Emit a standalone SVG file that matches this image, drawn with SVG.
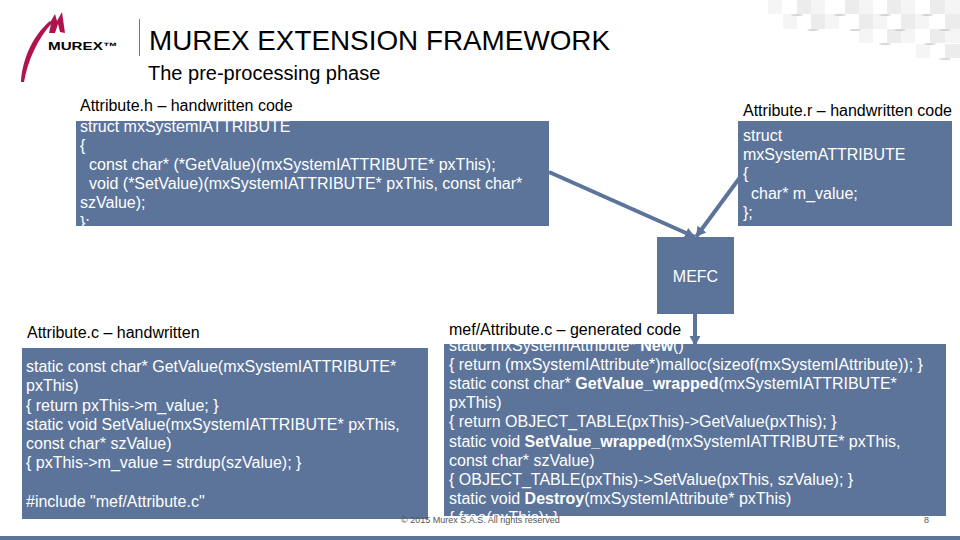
<svg xmlns="http://www.w3.org/2000/svg" width="960" height="540" viewBox="0 0 960 540">
<style>
text{font-family:"Liberation Sans",Arial,sans-serif;fill:#000}
.b{fill:#5c7499}
.t{font-size:16px}
.w{font-size:16px;fill:#fff}
.w tspan.s{font-weight:bold}
.c{stroke:#5c7499;stroke-width:4;fill:none}
.g1{fill:#f5f5f5}.g2{fill:#ececec}.d{fill:#c8c8c8}
</style>
<defs><marker id="a" markerUnits="userSpaceOnUse" markerWidth="12" markerHeight="12" refX="10" refY="5.500" orient="auto"><path d="M0 0L10 5.500L0 11Z" fill="#5c7499"/></marker></defs>
<rect width="960" height="540" fill="#fff"/>
<g id="background">
<rect class="g1" x="768" y="0" width="14" height="14"/><rect class="g2" x="797" y="0" width="14" height="14"/><rect class="g1" x="811" y="0" width="14" height="14"/><rect class="g2" x="845" y="0" width="14" height="14"/><rect class="g1" x="859" y="0" width="14" height="14"/><rect class="g2" x="887" y="0" width="14" height="14"/><rect class="g1" x="901" y="0" width="14" height="14"/><rect class="g2" x="930" y="0" width="15" height="14"/><rect class="g1" x="945" y="0" width="15" height="14"/>
<rect class="g1" x="783" y="14" width="14" height="15"/><rect class="g2" x="811" y="14" width="14" height="15"/><rect class="g1" x="825" y="14" width="14" height="15"/><rect class="g2" x="859" y="14" width="14" height="15"/><rect class="g1" x="873" y="14" width="14" height="15"/><rect class="g2" x="901" y="14" width="14" height="15"/><rect class="g1" x="915" y="14" width="14" height="15"/><rect class="g2" x="945" y="14" width="15" height="15"/>
<rect class="g1" x="859" y="29" width="14" height="14"/><rect class="g2" x="887" y="29" width="14" height="14"/><rect class="g1" x="901" y="29" width="14" height="14"/><rect class="g2" x="930" y="29" width="15" height="14"/><rect class="g1" x="945" y="29" width="15" height="14"/>
<rect class="g1" x="916" y="44" width="14" height="14"/><rect class="g2" x="945" y="44" width="15" height="14"/>
<ellipse class="d" cx="797" cy="15" rx="6" ry="0.8"/><ellipse class="d" cx="840" cy="15" rx="6" ry="0.8"/><ellipse class="d" cx="885" cy="15" rx="6" ry="0.8"/><ellipse class="d" cx="927" cy="15" rx="6" ry="0.8"/>
<ellipse class="d" cx="813" cy="30" rx="6" ry="0.8"/><ellipse class="d" cx="855" cy="30" rx="6" ry="0.8"/><ellipse class="d" cx="900" cy="30" rx="6" ry="0.8"/><ellipse class="d" cx="945" cy="30" rx="6" ry="0.8"/>
<ellipse class="d" cx="885" cy="44" rx="6" ry="0.8"/><ellipse class="d" cx="930" cy="44" rx="6" ry="0.8"/><ellipse class="d" cx="945" cy="59" rx="6" ry="0.8"/>
</g>
<g id="logo">
<path d="M21 82C22 62 31 37 50 21L52 23C38 38 28 60 24 82Z" fill="#b0144f"/>
<path d="M48 26L55 14L57 21L62 12L65 33L60 32L58 24L55 33L49 33L51 24Z" fill="#b0144f"/>
<text x="48" y="50" font-size="10.500" font-weight="bold" textLength="70" lengthAdjust="spacingAndGlyphs">MUREX™</text>
<rect x="139" y="19" width="1" height="37" fill="#777"/>
</g>
<text id="title" x="149" y="50" font-size="28" textLength="461" lengthAdjust="spacingAndGlyphs">MUREX EXTENSION FRAMEWORK</text>
<text id="subtitle" x="148" y="80" font-size="20">The pre-processing phase</text>
<rect x="0" y="536" width="960" height="4" class="b"/>
<g id="attr-h">
<text class="t" x="80" y="111">Attribute.h – handwritten code</text>
<rect class="b" x="76" y="121" width="473" height="105"/>
<text class="w" x="80" y="132">struct mxSystemIATTRIBUTE</text>
<text class="w" x="80" y="151">{</text>
<text class="w" x="89" y="170">const char* (*GetValue)(mxSystemIATTRIBUTE* pxThis);</text>
<text class="w" x="89" y="189">void (*SetValue)(mxSystemIATTRIBUTE* pxThis, const char*</text>
<text class="w" x="80" y="208">szValue);</text>
<text class="w" x="80" y="228">};</text>
</g>
<g id="attr-r">
<text class="t" x="743" y="116">Attribute.r – handwritten code</text>
<rect class="b" x="738" y="121" width="214" height="105"/>
<text class="w" x="743" y="141">struct</text>
<text class="w" x="743" y="160">mxSystemATTRIBUTE</text>
<text class="w" x="743" y="179">{</text>
<text class="w" x="751" y="199">char* m_value;</text>
<text class="w" x="743" y="218">};</text>
</g>
<g id="mefc">
<rect class="b" x="657" y="237" width="77" height="77"/>
<text class="w" x="695.500" y="282" text-anchor="middle">MEFC</text>
</g>
<g id="attr-c">
<text class="t" x="27" y="338">Attribute.c – handwritten</text>
<rect class="b" x="22" y="348" width="406" height="171"/>
<text class="w" x="26" y="372">static const char* GetValue(mxSystemIATTRIBUTE*</text>
<text class="w" x="26" y="391">pxThis)</text>
<text class="w" x="26" y="411">{ return pxThis-&gt;m_value; }</text>
<text class="w" x="26" y="430">static void SetValue(mxSystemIATTRIBUTE* pxThis,</text>
<text class="w" x="26" y="449">const char* szValue)</text>
<text class="w" x="26" y="468">{ pxThis-&gt;m_value = strdup(szValue); }</text>
<text class="w" x="26" y="507">#include "mef/Attribute.c"</text>
</g>
<g id="mef-attr">
<text class="t" x="449" y="335">mef/Attribute.c – generated code</text>
<rect class="b" x="444" y="344" width="502" height="172"/>
<text class="w" x="449" y="351">static mxSystemIAttribute* <tspan class="s">New</tspan>()</text>
<text class="w" x="449" y="370">{ return (mxSystemIAttribute*)malloc(sizeof(mxSystemIAttribute)); }</text>
<text class="w" x="449" y="389">static const char* <tspan class="s">GetValue_wrapped</tspan>(mxSystemIATTRIBUTE*</text>
<text class="w" x="449" y="408">pxThis)</text>
<text class="w" x="449" y="427">{ return OBJECT_TABLE(pxThis)-&gt;GetValue(pxThis); }</text>
<text class="w" x="449" y="447">static void <tspan class="s">SetValue_wrapped</tspan>(mxSystemIATTRIBUTE* pxThis,</text>
<text class="w" x="449" y="466">const char* szValue)</text>
<text class="w" x="449" y="485">{ OBJECT_TABLE(pxThis)-&gt;SetValue(pxThis, szValue); }</text>
<text class="w" x="449" y="504">static void <tspan class="s">Destroy</tspan>(mxSystemIAttribute* pxThis)</text>
<text class="w" x="449" y="523">{ free(pxThis); }</text>
</g>
<g id="connectors">
<line class="c" x1="549" y1="172" x2="695" y2="237" marker-end="url(#a)"/>
<line class="c" x1="741" y1="176" x2="696" y2="237" marker-end="url(#a)"/>
<line class="c" x1="695" y1="314" x2="695" y2="346" marker-end="url(#a)"/>
</g>
<g id="footer">
<text x="401" y="523" font-size="9" style="fill:#555">© 2015 Murex S.A.S. All rights reserved</text>
<text x="924" y="523" font-size="9" style="fill:#555">8</text>
</g>
</svg>
